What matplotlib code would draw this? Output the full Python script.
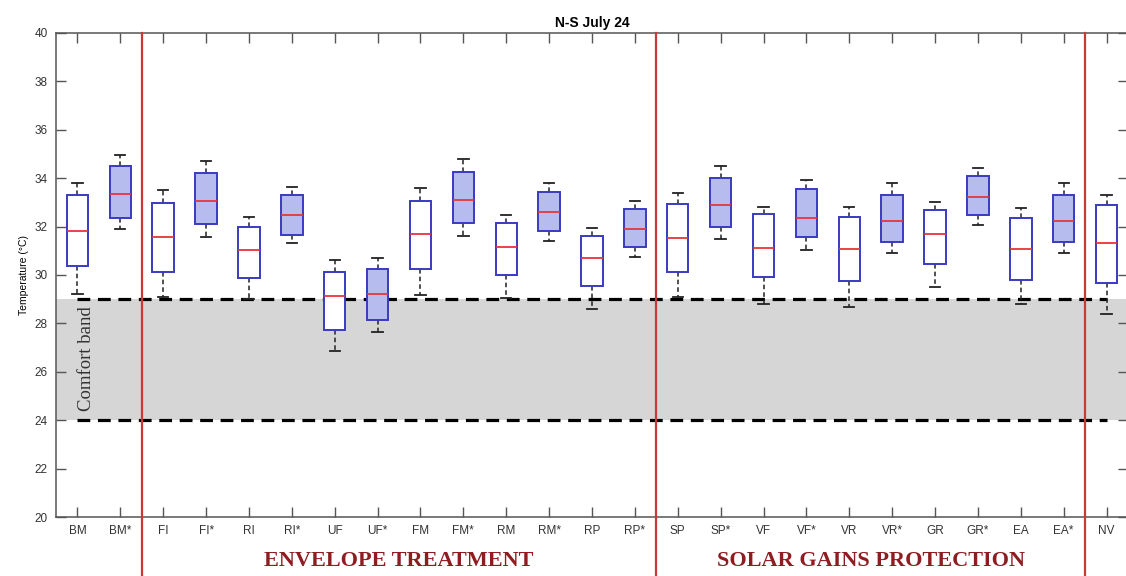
import numpy as np
import matplotlib
matplotlib.use("Agg")
import matplotlib.pyplot as plt
import matplotlib.transforms as mtransforms

plt.rcParams['font.family'] = ['Liberation Sans', 'DejaVu Sans']

# case labels (starred = improved variant)
labels = ["BM", "BM*", "FI", "FI*", "RI", "RI*", "UF", "UF*", "FM", "FM*",
          "RM", "RM*", "RP", "RP*", "SP", "SP*", "VF", "VF*", "VR", "VR*",
          "GR", "GR*", "EA", "EA*", "NV"]

# box statistics (deg C)
whis_hi = [33.79, 34.96, 33.51, 34.72, 32.38, 33.65, 30.62, 30.72, 33.58, 34.78,
           32.47, 33.79, 31.96, 33.07, 33.37, 34.50, 32.82, 33.93, 32.80, 33.79,
           33.03, 34.43, 32.78, 33.79, 33.31]
q3 = [33.31, 34.50, 32.99, 34.23, 32.00, 33.31, 30.11, 30.24, 33.07, 34.24,
      32.15, 33.42, 31.62, 32.71, 32.93, 33.99, 32.52, 33.54, 32.41, 33.31,
      32.69, 34.10, 32.37, 33.31, 32.89]
median = [31.83, 33.33, 31.58, 33.06, 31.03, 32.48, 29.13, 29.20, 31.68, 33.09,
          31.16, 32.62, 30.69, 31.91, 31.54, 32.89, 31.12, 32.37, 31.09, 32.25,
          31.68, 33.24, 31.07, 32.25, 31.31]
q1 = [30.37, 32.37, 30.12, 32.10, 29.86, 31.67, 27.73, 28.14, 30.24, 32.16,
      29.99, 31.83, 29.56, 31.14, 30.14, 32.00, 29.90, 31.57, 29.74, 31.35,
      30.45, 32.47, 29.79, 31.38, 29.66]
whis_lo = [29.21, 31.89, 29.10, 31.58, 29.00, 31.31, 26.86, 27.64, 29.17, 31.62,
           29.04, 31.39, 28.58, 30.74, 29.08, 31.49, 28.80, 31.03, 28.69, 30.90,
           29.49, 32.07, 28.79, 30.90, 28.39]

comfort_low = 24
comfort_high = 29
group_edges = [2.5, 14.5, 24.5]
groups = ["ENVELOPE TREATMENT", "SOLAR GAINS PROTECTION"]

pos = np.arange(1, len(labels) + 1)

fig = plt.figure(figsize=(11.26, 5.76), dpi=100)
# right spine sits just past the image edge, as in the original
ax = fig.add_axes([56/1126, 1 - 517/576, (1128 - 56)/1126, (517 - 33)/576])

# comfort band
ax.axhspan(comfort_low, comfort_high, color="#d6d6d6", zorder=0, lw=0)
for yv in (comfort_low, comfort_high):
    ax.plot([pos[0], pos[-1]], [yv, yv], color="black", lw=2.3,
            dashes=(4.0, 2.4), zorder=1)
ax.text(1.2, 26.55, "Comfort band", rotation=90, ha="center", va="center",
        family="Liberation Serif", fontsize=13.5, color="#333333", zorder=2)

stats = []
for i in range(len(labels)):
    stats.append(dict(med=median[i], q1=q1[i], q3=q3[i],
                      whislo=whis_lo[i], whishi=whis_hi[i], fliers=[]))

bp = ax.bxp(stats, positions=pos, widths=0.5, patch_artist=True,
            showfliers=False, manage_ticks=False,
            boxprops=dict(edgecolor="#3a3ac0", linewidth=1.4),
            medianprops=dict(color="#e8343a", linewidth=1.3),
            whiskerprops=dict(color="#222222", linewidth=1.1, linestyle=(0, (3, 2))),
            capprops=dict(color="#222222", linewidth=1.3),
            capwidths=0.24)
for lab, box in zip(labels, bp["boxes"]):
    box.set_facecolor("#b7bcef" if lab.endswith("*") else "white")
    box.set_zorder(3)
for m in bp["medians"]:
    m.set_zorder(4)

# group separators running below the axis
for xe in group_edges:
    ax.axvline(xe, ymin=-0.13, ymax=1, color="#c83a3a", lw=1.6,
               clip_on=False, zorder=5)

trans = mtransforms.blended_transform_factory(ax.transData, ax.transAxes)
for g, (a, b) in zip(groups, zip(group_edges[:-1], group_edges[1:])):
    ax.text((a + b) / 2, -0.09, g, transform=trans, ha="center", va="center",
            family="Liberation Serif", fontweight="bold", fontsize=16,
            color="#8e1d22")

ax.set_xlim(0.5, 25.5)
ax.set_ylim(20, 40)
ax.set_xticks(pos)
ax.set_xticklabels(labels)
ax.set_yticks(np.arange(20, 41, 2))
ax.tick_params(direction="in", length=7, width=1, color="#555555",
               labelcolor="#333333", labelsize=8.5, top=True, right=True, pad=6)
for s in ax.spines.values():
    s.set_color("#555555")
    s.set_linewidth(1.1)

ax.set_ylabel("Temperature (°C)", fontsize=7.5, labelpad=4)
ax.set_title("N-S July 24", fontsize=10, fontweight="bold", pad=4)

fig.savefig("out.png", dpi=100)
